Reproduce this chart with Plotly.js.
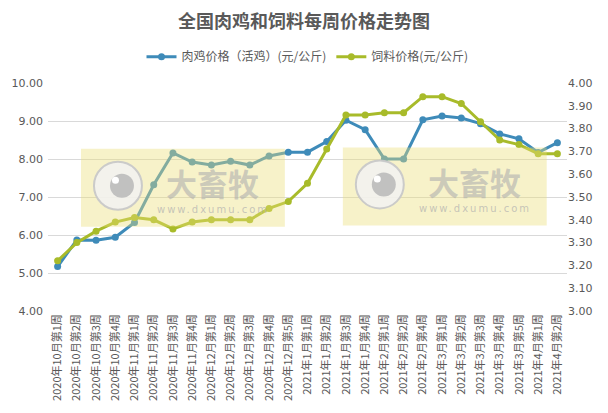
<!DOCTYPE html>
<html>
<head>
<meta charset="utf-8">
<script src="https://cdn.plot.ly/plotly-3.0.1.min.js"></script>
<style>
  html, body { margin: 0; padding: 0; background: #fff; }
  #chart { width: 608px; height: 413px; }
</style>
</head>
<body>
<div id="chart"></div>
<script>
var weeks = [
    '2020年10月第1周', '2020年10月第2周', '2020年10月第3周', '2020年10月第4周',
    '2020年11月第1周', '2020年11月第2周', '2020年11月第3周', '2020年11月第4周',
    '2020年12月第1周', '2020年12月第2周', '2020年12月第3周', '2020年12月第4周', '2020年12月第5周',
    '2021年1月第1周', '2021年1月第2周', '2021年1月第3周', '2021年1月第4周',
    '2021年2月第1周', '2021年2月第2周', '2021年2月第4周',
    '2021年3月第1周', '2021年3月第2周', '2021年3月第3周', '2021年3月第4周', '2021年3月第5周',
    '2021年4月第1周', '2021年4月第2周'
];

// 肉鸡价格（活鸡）, 左轴
var chickenPrice = [
    5.17, 5.87, 5.86, 5.94, 6.33, 7.32, 8.16, 7.92, 7.84, 7.94, 7.84, 8.08, 8.18,
    8.18, 8.46, 9.02, 8.77, 8.00, 8.00, 9.03, 9.13, 9.08, 8.93, 8.66, 8.53, 8.17, 8.43
];

// 饲料价格, 右轴
var feedPrice = [
    3.22, 3.30, 3.35, 3.39, 3.41, 3.40, 3.36, 3.39, 3.40, 3.40, 3.40, 3.45, 3.48,
    3.56, 3.71, 3.86, 3.86, 3.87, 3.87, 3.94, 3.94, 3.91, 3.83, 3.75, 3.73, 3.69, 3.69
];

var leftTicks = [4, 5, 6, 7, 8, 9, 10];
var rightTicks = [3.0, 3.1, 3.2, 3.3, 3.4, 3.5, 3.6, 3.7, 3.8, 3.9, 4.0];

var blue = '#3e8bb9';
var green = '#a8bb2a';
var grey = '#595959';

var traces = [
    {
        x: weeks,
        y: chickenPrice,
        name: '肉鸡价格（活鸡）(元/公斤)',
        mode: 'lines+markers',
        line: { color: blue, width: 3 },
        marker: { color: blue, size: 7 }
    },
    {
        x: weeks,
        y: feedPrice,
        name: '饲料价格(元/公斤)',
        yaxis: 'y2',
        mode: 'lines+markers',
        line: { color: green, width: 3 },
        marker: { color: green, size: 7 }
    }
];

// plot area in pixels: left 47.7, right 567, top 83.3, bottom 311.3
var PL = 47.7, PW = 519.3, PT = 83.3, PH = 228;
function px(x) { return (x - PL) / PW; }
function py(y) { return (PT + PH - y) / PH; }

var shapes = [];
var annotations = [];

// watermark "大畜牧" boxes
function watermark(left, top) {
    var w = 204, h = 78;
    shapes.push({
        type: 'rect', xref: 'paper', yref: 'paper', layer: 'above',
        x0: px(left), x1: px(left + w), y0: py(top + h), y1: py(top),
        fillcolor: 'rgba(236,222,120,0.4)', line: { width: 0 }
    });
    var cx = left + 37, cy = top + 37;
    shapes.push({
        type: 'circle', xref: 'paper', yref: 'paper', layer: 'above',
        x0: px(cx - 24), x1: px(cx + 24), y0: py(cy + 24), y1: py(cy - 24),
        fillcolor: 'rgba(242,242,242,0.85)', line: { color: 'rgba(200,200,200,0.95)', width: 2 }
    });
    shapes.push({
        type: 'circle', xref: 'paper', yref: 'paper', layer: 'above',
        x0: px(cx - 8), x1: px(cx + 16), y0: py(cy + 12), y1: py(cy - 12),
        fillcolor: 'rgba(190,190,190,0.95)', line: { width: 0 }
    });
    shapes.push({
        type: 'circle', xref: 'paper', yref: 'paper', layer: 'above',
        x0: px(cx - 6), x1: px(cx + 1), y0: py(cy - 2), y1: py(cy - 9),
        fillcolor: '#ffffff', line: { width: 0 }
    });
    annotations.push({
        xref: 'paper', yref: 'paper', x: px(left + 132), y: py(top + 34),
        xanchor: 'center', yanchor: 'middle',
        text: '<b>大畜牧</b>', showarrow: false,
        font: { family: 'Noto Sans CJK SC', size: 31, color: 'rgba(175,175,175,0.6)' }
    });
    annotations.push({
        xref: 'paper', yref: 'paper', x: px(left + 132), y: py(top + 61),
        xanchor: 'center', yanchor: 'middle',
        text: '<span style="letter-spacing:2px">www.dxumu.com</span>', showarrow: false,
        font: { family: 'DejaVu Sans', size: 10, color: 'rgba(175,175,175,0.7)' }
    });
}
watermark(80.7, 149);
watermark(342.7, 147.7);

var layout = {
    width: 608,
    height: 413,
    margin: { l: 47.7, r: 41, t: 83.3, b: 101.7, pad: 0, autoexpand: false },
    paper_bgcolor: '#ffffff',
    plot_bgcolor: '#ffffff',
    font: { family: 'Noto Sans CJK SC, sans-serif', color: grey },
    title: {
        text: '<b>全国肉鸡和饲料每周价格走势图</b>',
        font: { family: 'Noto Sans CJK SC', size: 18, color: grey },
        x: 0.5, xanchor: 'center', y: 0.947, yanchor: 'middle',
        automargin: false
    },
    showlegend: true,
    legend: {
        orientation: 'h', x: 0.5, xanchor: 'center', y: 1.115, yanchor: 'middle',
        font: { family: 'Noto Sans CJK SC', size: 12, color: grey },
        itemwidth: 30, tracegroupgap: 0
    },
    xaxis: {
        type: 'category',
        range: [-0.5, weeks.length - 0.5],
        automargin: false,
        tickangle: -90,
        tickfont: { family: 'Noto Sans CJK SC', size: 11, color: grey },
        showgrid: false,
        zeroline: false,
        showline: false,
        ticks: '',
        ticklen: 0
    },
    yaxis: {
        range: [4, 10],
        automargin: false,
        tickvals: leftTicks,
        tickformat: '.2f',
        tickfont: { family: 'DejaVu Sans', size: 11, color: grey },
        gridcolor: '#d9d9d9',
        gridwidth: 1,
        zeroline: false,
        showline: false,
        ticks: '',
        ticklabelstandoff: 4
    },
    yaxis2: {
        range: [3, 4],
        automargin: false,
        tickvals: rightTicks,
        tickformat: '.2f',
        overlaying: 'y',
        side: 'right',
        tickfont: { family: 'DejaVu Sans', size: 11, color: grey },
        showgrid: false,
        zeroline: false,
        showline: false,
        ticks: ''
    },
    shapes: shapes,
    annotations: annotations
};

Plotly.newPlot('chart', traces, layout, { displayModeBar: false, staticPlot: true });
</script>
</body>
</html>
